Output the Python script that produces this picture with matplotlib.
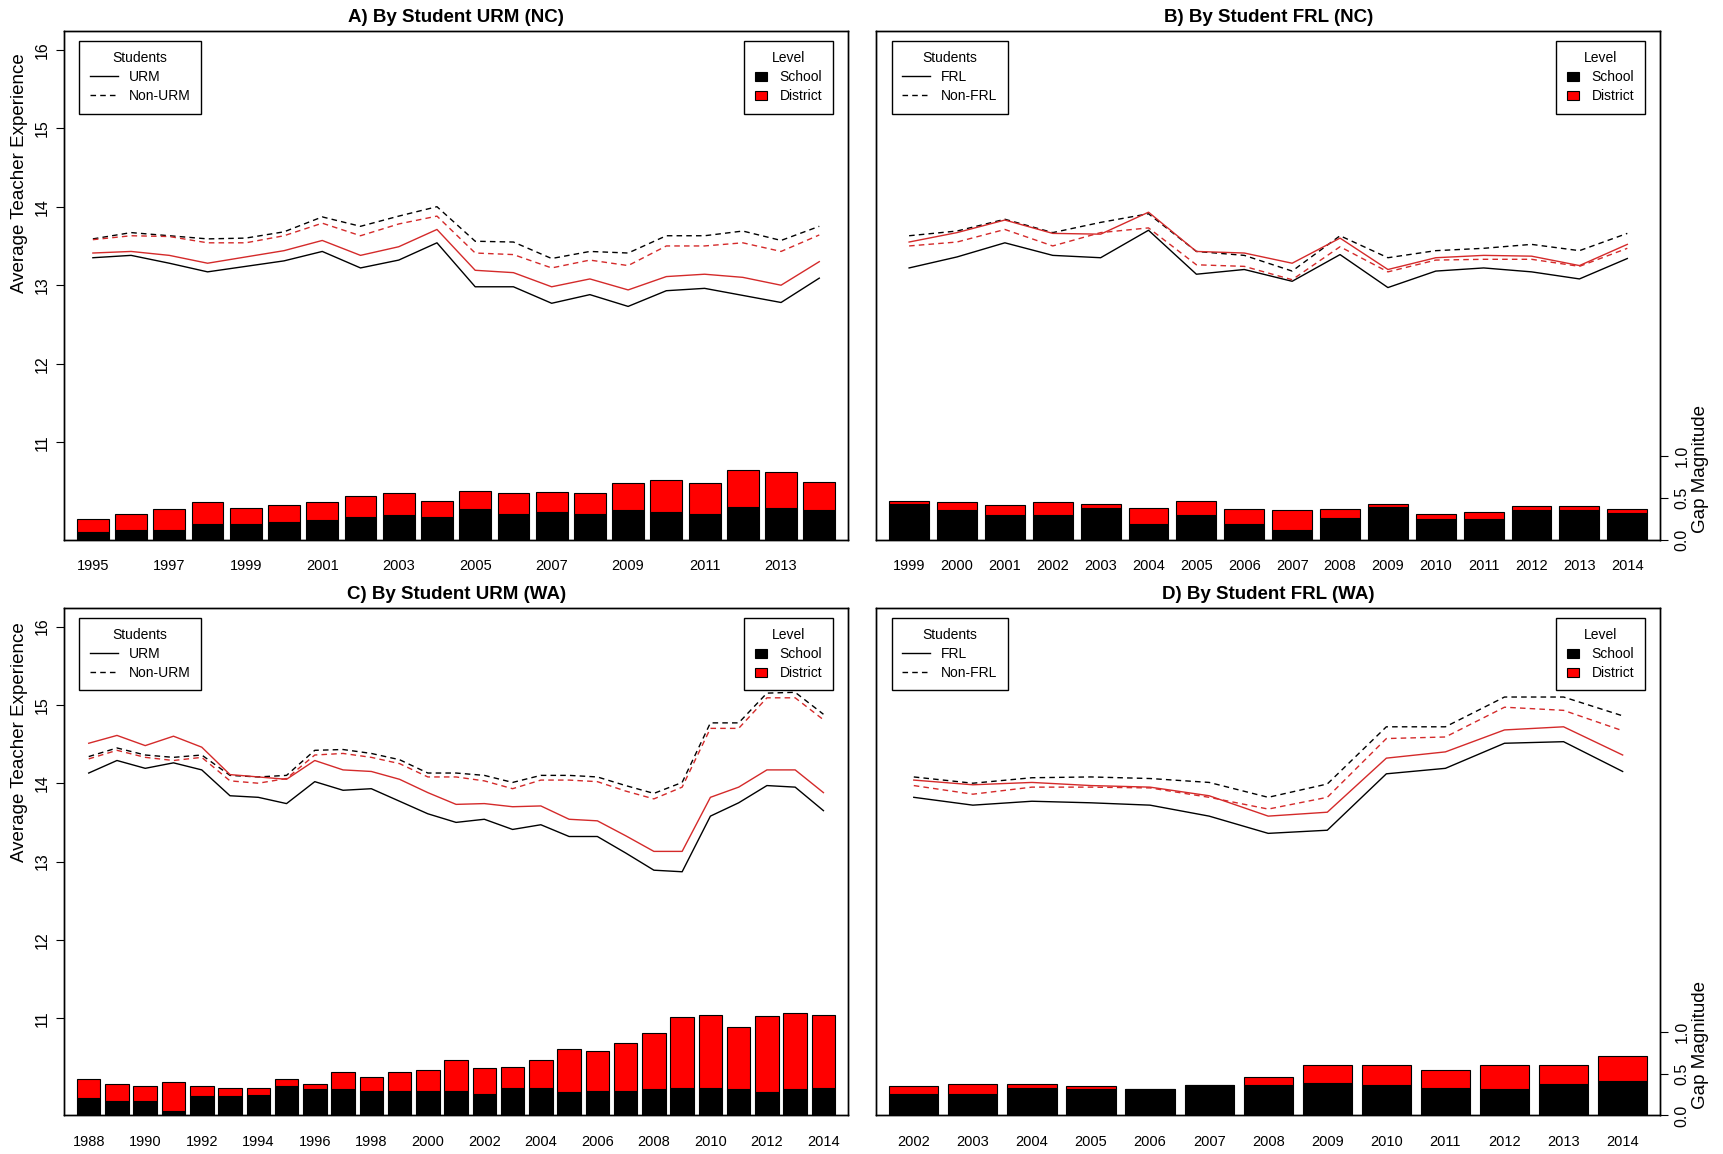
import matplotlib
matplotlib.use('Agg')
import matplotlib.pyplot as plt
from matplotlib.lines import Line2D
from matplotlib.patches import Patch
import numpy as np

plt.rcParams['font.family'] = ['Liberation Sans', 'DejaVu Sans']

# ── data: A) URM, North Carolina ──
nc_years = list(range(1995, 2015))
a_urm_school = [13.35, 13.38, 13.28, 13.17, 13.24, 13.31, 13.43, 13.22, 13.32, 13.54,
                12.98, 12.98, 12.77, 12.88, 12.73, 12.93, 12.96, 12.87, 12.78, 13.09]
a_non_school = [13.59, 13.67, 13.63, 13.59, 13.60, 13.68, 13.87, 13.75, 13.88, 14.00,
                13.56, 13.55, 13.34, 13.43, 13.41, 13.63, 13.63, 13.69, 13.57, 13.75]
a_urm_dist = [13.41, 13.43, 13.38, 13.28, 13.36, 13.44, 13.57, 13.38, 13.49, 13.71,
              13.19, 13.16, 12.98, 13.08, 12.94, 13.11, 13.14, 13.10, 13.00, 13.30]
a_non_dist = [13.58, 13.63, 13.62, 13.54, 13.54, 13.63, 13.79, 13.63, 13.78, 13.88,
              13.41, 13.39, 13.22, 13.32, 13.25, 13.50, 13.50, 13.54, 13.43, 13.64]
a_gap_school = [0.09, 0.11, 0.12, 0.19, 0.19, 0.21, 0.23, 0.27, 0.29, 0.27,
                0.36, 0.31, 0.33, 0.31, 0.35, 0.33, 0.31, 0.39, 0.38, 0.35]
a_gap_total = [0.25, 0.31, 0.36, 0.45, 0.38, 0.41, 0.45, 0.52, 0.55, 0.46,
               0.58, 0.55, 0.57, 0.55, 0.67, 0.71, 0.67, 0.83, 0.81, 0.69]

# ── B) FRL, North Carolina ──
nc_frl_years = list(range(1999, 2015))
b_frl_school = [13.22, 13.36, 13.54, 13.38, 13.35, 13.70, 13.14, 13.20, 13.05, 13.39,
                12.97, 13.18, 13.22, 13.17, 13.08, 13.34]
b_non_school = [13.63, 13.69, 13.84, 13.67, 13.80, 13.91, 13.43, 13.38, 13.18, 13.63,
                13.35, 13.44, 13.47, 13.52, 13.44, 13.66]
b_frl_dist = [13.55, 13.67, 13.83, 13.66, 13.65, 13.93, 13.43, 13.41, 13.28, 13.60,
              13.20, 13.35, 13.38, 13.37, 13.25, 13.52]
b_non_dist = [13.50, 13.55, 13.71, 13.50, 13.67, 13.73, 13.26, 13.24, 13.07, 13.49,
              13.17, 13.32, 13.33, 13.33, 13.24, 13.47]
b_gap_school = [0.43, 0.35, 0.29, 0.29, 0.38, 0.19, 0.29, 0.19, 0.12, 0.26,
                0.39, 0.25, 0.25, 0.35, 0.35, 0.32]
b_gap_total = [0.46, 0.45, 0.41, 0.45, 0.43, 0.38, 0.46, 0.36, 0.35, 0.36,
               0.43, 0.31, 0.33, 0.40, 0.40, 0.36]

# ── C) URM, Washington ──
wa_years = list(range(1988, 2015))
c_urm_school = [14.13, 14.29, 14.19, 14.26, 14.17, 13.84, 13.82, 13.74, 14.02, 13.91,
                13.93, 13.77, 13.61, 13.50, 13.54, 13.41, 13.47, 13.32, 13.32, 13.11,
                12.89, 12.87, 13.58, 13.75, 13.97, 13.95, 13.65]
c_non_school = [14.34, 14.45, 14.36, 14.33, 14.36, 14.10, 14.08, 14.10, 14.42, 14.43,
                14.38, 14.30, 14.13, 14.13, 14.10, 14.01, 14.10, 14.10, 14.08, 13.97,
                13.87, 14.01, 14.77, 14.77, 15.15, 15.16, 14.88]
c_urm_dist = [14.51, 14.61, 14.48, 14.60, 14.46, 14.11, 14.08, 14.05, 14.29, 14.17,
              14.15, 14.05, 13.88, 13.73, 13.74, 13.70, 13.71, 13.54, 13.52, 13.33,
              13.13, 13.13, 13.82, 13.95, 14.17, 14.17, 13.88]
c_non_dist = [14.31, 14.42, 14.33, 14.29, 14.33, 14.03, 14.00, 14.06, 14.36, 14.38,
              14.33, 14.25, 14.08, 14.08, 14.03, 13.93, 14.04, 14.04, 14.02, 13.90,
              13.80, 13.95, 14.70, 14.70, 15.09, 15.09, 14.81]
c_gap_school = [0.21, 0.17, 0.17, 0.05, 0.23, 0.23, 0.25, 0.35, 0.31, 0.31,
                0.29, 0.29, 0.29, 0.29, 0.26, 0.33, 0.33, 0.28, 0.29, 0.29,
                0.31, 0.33, 0.33, 0.31, 0.28, 0.31, 0.33]
c_gap_total = [0.44, 0.38, 0.35, 0.40, 0.35, 0.33, 0.33, 0.44, 0.38, 0.52,
               0.46, 0.52, 0.54, 0.66, 0.57, 0.58, 0.66, 0.79, 0.77, 0.86,
               0.98, 1.17, 1.20, 1.06, 1.19, 1.22, 1.20]

# ── D) FRL, Washington ──
wa_frl_years = list(range(2002, 2015))
d_frl_school = [13.82, 13.72, 13.77, 13.75, 13.72, 13.58, 13.36, 13.40, 14.12, 14.19,
                14.51, 14.53, 14.15]
d_non_school = [14.08, 14.00, 14.07, 14.08, 14.06, 14.01, 13.82, 13.99, 14.72, 14.72,
                15.10, 15.10, 14.86]
d_frl_dist = [14.04, 13.98, 14.01, 13.97, 13.95, 13.84, 13.58, 13.63, 14.32, 14.40,
              14.68, 14.72, 14.36]
d_non_dist = [13.97, 13.86, 13.95, 13.95, 13.94, 13.82, 13.67, 13.82, 14.57, 14.59,
              14.97, 14.93, 14.67]
d_gap_school = [0.26, 0.26, 0.33, 0.31, 0.31, 0.36, 0.36, 0.39, 0.36, 0.33,
                0.31, 0.38, 0.41]
d_gap_total = [0.35, 0.38, 0.38, 0.35, 0.31, 0.36, 0.46, 0.60, 0.60, 0.54,
               0.60, 0.60, 0.71]

LINE_RED = '#d42a2a'
BAR_RED = '#ff0000'
FS_TICK = 10.5
FS_LEG = 10


def panel(rect, title, years, grp, lo_s, hi_s, lo_d, hi_d, gap_s, gap_t,
          left_axis, right_axis, step):
    ax = fig.add_axes(rect)
    n = len(years)
    x = np.arange(1, n + 1)
    m = 0.0174 * (n - 1 + 0.833)
    ax.set_xlim(1 - 0.4167 - m, n + 0.4167 + m)
    ax.set_ylim(9.76, 16.24)

    # bars on secondary scale
    axb = ax.twinx()
    axb.set_ylim(0, 6.06)
    gap_s = np.array(gap_s)
    gap_t = np.array(gap_t)
    axb.bar(x, gap_s, width=0.833, color='black', edgecolor='black', lw=0.8)
    axb.bar(x, gap_t - gap_s, bottom=gap_s, width=0.833, color=BAR_RED,
            edgecolor='black', lw=0.8)

    ax.plot(x, lo_s, color='black', lw=1.0)
    ax.plot(x, hi_s, color='black', lw=1.0, dashes=(4, 3))
    ax.plot(x, lo_d, color=LINE_RED, lw=1.0)
    ax.plot(x, hi_d, color=LINE_RED, lw=1.0, dashes=(4, 3))

    ax.set_xticks(x[::step])
    ax.set_xticklabels([str(y) for y in years][::step], fontsize=FS_TICK)
    ax.tick_params(axis='x', length=0, pad=14)

    if left_axis:
        ax.set_yticks(range(11, 17))
        ax.tick_params(axis='y', labelrotation=90, labelsize=FS_TICK + 1,
                       length=6, pad=4)
        for t in ax.get_yticklabels():
            t.set_va('center')
    else:
        ax.set_yticks([])
    if right_axis:
        axb.set_yticks([0.0, 0.5, 1.0])
        axb.set_yticklabels(['0.0', '0.5', '1.0'])
        axb.tick_params(axis='y', labelrotation=90, labelsize=FS_TICK + 1,
                        length=6, pad=4)
        for t in axb.get_yticklabels():
            t.set_va('center')
    else:
        axb.set_yticks([])

    for a in (ax, axb):
        for s in a.spines.values():
            s.set_linewidth(1.0)

    ax.set_title(title, fontsize=13.5, fontweight='bold', pad=6)

    h1 = [Line2D([], [], color='black', lw=1.0),
          Line2D([], [], color='black', lw=1.0, dashes=(4, 3))]
    leg1 = axb.legend(h1, [grp, 'Non-' + grp], title='Students',
                      loc='upper left', bbox_to_anchor=(0.02, 0.98),
                      borderaxespad=0, fontsize=FS_LEG, title_fontsize=FS_LEG,
                      fancybox=False, edgecolor='black', framealpha=1,
                      handlelength=2.0, handletextpad=0.8,
                      labelspacing=0.35, borderpad=0.75)
    leg1.get_frame().set_linewidth(1.0)
    axb.add_artist(leg1)

    h2 = [Patch(facecolor='black', edgecolor='black', lw=0.8),
          Patch(facecolor=BAR_RED, edgecolor='black', lw=0.8)]
    leg2 = axb.legend(h2, ['School', 'District'], title='Level',
                      loc='upper right', bbox_to_anchor=(0.98, 0.98),
                      borderaxespad=0, fontsize=FS_LEG, title_fontsize=FS_LEG,
                      fancybox=False, edgecolor='black', framealpha=1,
                      handlelength=0.9, handleheight=0.6, handletextpad=0.9,
                      labelspacing=0.35, borderpad=0.75)
    leg2.get_frame().set_linewidth(1.0)
    return ax


fig = plt.figure(figsize=(17.23, 11.54), dpi=100)

panel([0.037, 0.5324, 0.4554, 0.4409], 'A) By Student URM (NC)', nc_years, 'URM',
      a_urm_school, a_non_school, a_urm_dist, a_non_dist, a_gap_school, a_gap_total,
      True, False, 2)
panel([0.5084, 0.5324, 0.4553, 0.4409], 'B) By Student FRL (NC)', nc_frl_years, 'FRL',
      b_frl_school, b_non_school, b_frl_dist, b_non_dist, b_gap_school, b_gap_total,
      False, True, 1)
panel([0.037, 0.0334, 0.4554, 0.44], 'C) By Student URM (WA)', wa_years, 'URM',
      c_urm_school, c_non_school, c_urm_dist, c_non_dist, c_gap_school, c_gap_total,
      True, False, 2)
panel([0.5084, 0.0334, 0.4553, 0.44], 'D) By Student FRL (WA)', wa_frl_years, 'FRL',
      d_frl_school, d_non_school, d_frl_dist, d_non_dist, d_gap_school, d_gap_total,
      False, True, 1)

fig.text(0.0115, 0.85, 'Average Teacher Experience', rotation=90,
         ha='center', va='center', fontsize=13.5)
fig.text(0.0115, 0.357, 'Average Teacher Experience', rotation=90,
         ha='center', va='center', fontsize=13.5)
fig.text(0.987, 0.594, 'Gap Magnitude', rotation=90,
         ha='center', va='center', fontsize=13.5)
fig.text(0.987, 0.0945, 'Gap Magnitude', rotation=90,
         ha='center', va='center', fontsize=13.5)

fig.savefig('out.png', dpi=100, facecolor='white')
